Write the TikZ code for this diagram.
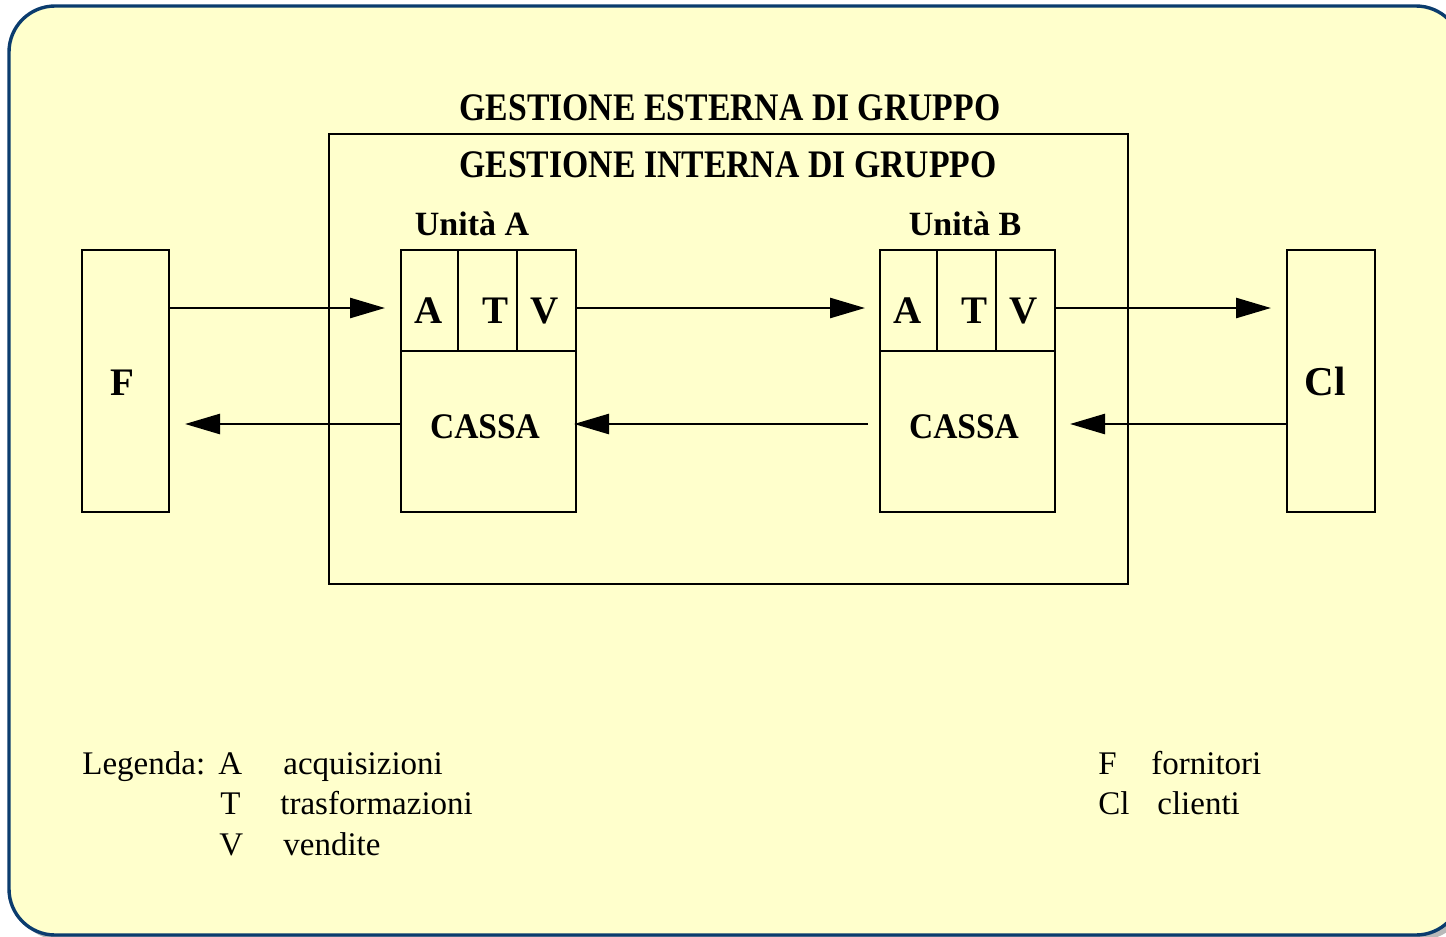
\documentclass[tikz,border=0pt]{standalone}
\usepackage{fontspec}
\setmainfont{Liberation Serif}
\usetikzlibrary{arrows.meta}
\definecolor{bgyellow}{HTML}{FFFFCC}
\definecolor{framblue}{HTML}{0B3C6E}
\tikzset{
  boxnode/.style={draw=black, line width=1.4pt, inner sep=0pt, outer sep=0pt, fill=none},
  bigbold/.style={font=\fontsize{19.5}{22}\selectfont\bfseries, inner sep=0pt},
  headtxt/.style={font=\fontsize{19.5}{22}\selectfont\bfseries, inner sep=0pt, xscale=0.865, anchor=base},
  unittxt/.style={font=\fontsize{17}{20}\selectfont\bfseries, inner sep=0pt, anchor=base},
  cassatxt/.style={font=\fontsize{18}{21}\selectfont\bfseries, inner sep=0pt, anchor=base, xscale=0.93},
  legtxt/.style={font=\fontsize{16.5}{20}\selectfont, inner sep=0pt, anchor=base west},
  arr/.style={line width=1.3pt, -{Triangle[length=17.5pt, width=10pt]}},
}
\begin{document}
\begin{tikzpicture}[x=0.5pt, y=-0.5pt]
\useasboundingbox (0,0) rectangle (1446,937);
\begin{scope}
\clip (0,0) rectangle (1446,937);
\fill[gray!55, rounded corners=23pt] (14,10) rectangle (1467,940);
\filldraw[fill=bgyellow, draw=framblue, line width=1.7pt, rounded corners=23pt] (9,6) rectangle (1462,935);
\end{scope}

% inner group box
\node[boxnode, minimum width=399.5pt, minimum height=225pt] (grp) at (728.5,359) {};

% headings
\node[headtxt] (hest) at (730,120) {GESTIONE ESTERNA DI GRUPPO};
\node[headtxt] (hint) at (728,177) {GESTIONE INTERNA DI GRUPPO};

% F and Cl boxes
\node[boxnode, minimum width=43.5pt, minimum height=131pt] (F) at (125.5,381) {};
\node[boxnode, minimum width=44pt, minimum height=131pt] (Cl) at (1331,381) {};
\node[bigbold, anchor=base] (Flbl) at (122,395) {F};
\node[bigbold, anchor=base, font=\fontsize{20.5}{23}\selectfont\bfseries] (Cllbl) at (1325,395) {Cl};

% Unit A
\node[boxnode, minimum width=28.5pt, minimum height=50.5pt] (cA) at (429.5,300.5) {};
\node[boxnode, minimum width=29.5pt, minimum height=50.5pt] (cT) at (487.5,300.5) {};
\node[boxnode, minimum width=29.5pt, minimum height=50.5pt] (cV) at (546.5,300.5) {};
\node[boxnode, minimum width=87.5pt, minimum height=80.5pt] (cC) at (488.5,431.5) {};
\node[unittxt] (uA) at (472,235) {Unità A};
\node[bigbold, anchor=base] (cAl) at (429,323) {A};
\node[bigbold, anchor=base] (cTl) at (495,323) {T};
\node[bigbold, anchor=base] (cVl) at (545,323) {V};
\node[cassatxt] (cCl) at (485,438) {CASSA};

% Unit B
\node[boxnode, minimum width=28.5pt, minimum height=50.5pt] (dA) at (908.5,300.5) {};
\node[boxnode, minimum width=29.5pt, minimum height=50.5pt] (dT) at (966.5,300.5) {};
\node[boxnode, minimum width=29.5pt, minimum height=50.5pt] (dV) at (1025.5,300.5) {};
\node[boxnode, minimum width=87.5pt, minimum height=80.5pt] (dC) at (967.5,431.5) {};
\node[unittxt] (uB) at (965,235) {Unità B};
\node[bigbold, anchor=base] (dAl) at (908,323) {A};
\node[bigbold, anchor=base] (dTl) at (974,323) {T};
\node[bigbold, anchor=base] (dVl) at (1024,323) {V};
\node[cassatxt] (dCl) at (964,438) {CASSA};

% arrows
\coordinate (r1) at (0,308);
\coordinate (r2) at (0,424);
\draw[arr, shorten >=8pt] (F.east |- r1) -- (cA.west |- r1);
\draw[arr, shorten >=7.5pt] (cV.east |- r1) -- (dA.west |- r1);
\draw[arr, shorten >=8pt] (dV.east |- r1) -- (Cl.west |- r1);
\draw[arr, shorten >=7.5pt] (Cl.west |- r2) -- (dC.east |- r2);
\draw[arr, shorten <=6pt, shorten >=-1pt] (dC.west |- r2) -- (cC.east |- r2);
\draw[arr, shorten >=8pt] (cC.west |- r2) -- (F.east |- r2);

% legend
\node[legtxt] (lg) at (82,774) {Legenda:};
\node[legtxt] (lgA) at (218,774) {A};
\node[legtxt] (lgAt) at (283,774) {acquisizioni};
\node[legtxt] (lgT) at (220,814) {T};
\node[legtxt] (lgTt) at (280,814) {trasformazioni};
\node[legtxt] (lgV) at (219,855) {V};
\node[legtxt] (lgVt) at (283,855) {vendite};
\node[legtxt] (lgF) at (1098,774) {F};
\node[legtxt] (lgFt) at (1151,774) {fornitori};
\node[legtxt] (lgC) at (1098,814) {Cl};
\node[legtxt] (lgCt) at (1157,814) {clienti};
\end{tikzpicture}
\end{document}
